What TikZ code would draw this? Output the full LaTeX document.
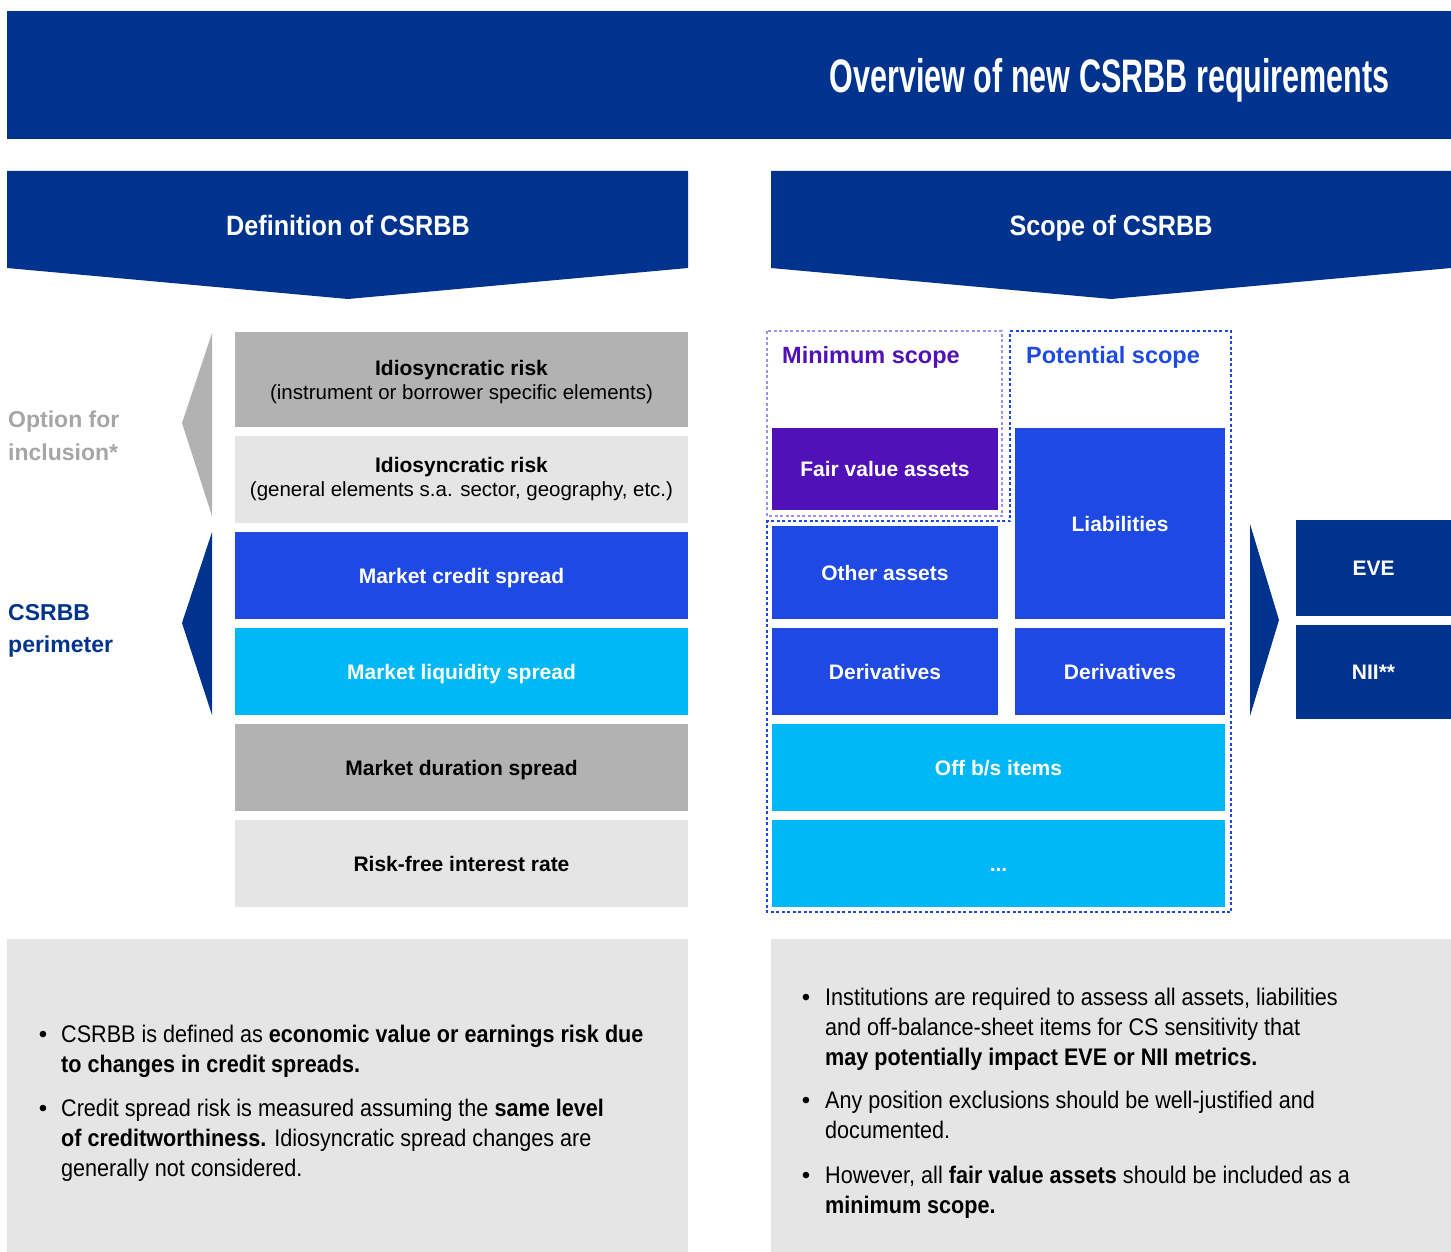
\documentclass[tikz,border=0pt]{standalone}
\usepackage{fontspec}
\setmainfont{Liberation Sans}
\newfontfamily\titlefont[FakeStretch=0.65]{Liberation Sans}
\newfontfamily\narrowfont[FakeStretch=0.9]{Liberation Sans}
\usetikzlibrary{positioning}
\definecolor{KpmgBlue}{HTML}{00338D}
\definecolor{CobaltBlue}{HTML}{1E49E2}
\definecolor{SkyBlue}{HTML}{00B8F5}
\definecolor{DeepPurple}{HTML}{5012B8}
\definecolor{LavenderLine}{HTML}{A58CF2}
\definecolor{MidGray}{HTML}{B2B2B2}
\definecolor{PaleGray}{HTML}{E5E5E5}
\definecolor{LabelGray}{HTML}{A6A6A6}

\begin{document}
\begin{tikzpicture}[x=1pt, y=-1pt,
  cellbase/.style 2 args={anchor=north west, inner sep=0pt, outer sep=0pt, minimum width=#1pt, minimum height=#2pt, align=center, font={\fontsize{21}{24}\selectfont\bfseries}},
  cell/.style 2 args={cellbase={#1}{#2}, text height=17pt, text depth=1.5pt},
  headtext/.style={anchor=base, inner sep=0pt, text=white, font={\narrowfont\fontsize{28}{30}\selectfont\bfseries}},
  sidelabel/.style={anchor=north west, inner sep=0pt, align=left, font={\fontsize{23}{32.5}\selectfont\bfseries}},
  scopelabel/.style={anchor=base west, inner sep=0pt, font={\fontsize{23.5}{28}\selectfont\bfseries}},
  bodytext/.style={anchor=north west, inner sep=0pt, align=left, font={\narrowfont\fontsize{24}{30}\selectfont}},
  bulletmark/.style={anchor=base, inner sep=0pt, font={\fontsize{24}{30}\selectfont}},
  scopeline/.style={dash pattern=on 3pt off 2.5pt, line width=1.5pt}
]
\useasboundingbox (0,0) rectangle (1451,1252);

\fill[KpmgBlue] (7,11) rectangle (1451,139);
\node[anchor=base east, inner sep=0pt, text=white, font={\titlefont\bfseries\fontsize{47}{50}\selectfont}] (title) at (1390,93) {Overview of new CSRBB requirements};

\fill[KpmgBlue] (7,171) -- (688,171) -- (688,268) -- (348,299) -- (7,268) -- cycle;
\node[headtext] (defhead) at (348,236) {Definition of CSRBB};
\fill[KpmgBlue] (771,171) -- (1451,171) -- (1451,268) -- (1111,299) -- (771,268) -- cycle;
\node[headtext] (scopehead) at (1111,236) {Scope of CSRBB};

\fill[MidGray] (212,333) -- (212,516) -- (182,423) -- cycle;
\fill[KpmgBlue] (212,532) -- (212,715) -- (182,623) -- cycle;
\node[sidelabel, text=LabelGray] (optlabel) at (8,411) {Option for\\inclusion*};
\node[sidelabel, text=KpmgBlue] (perimlabel) at (8,604) {CSRBB\\perimeter};

\node[cellbase={453}{95}, fill=MidGray] (idioa) at (235,332) {\rule{0pt}{20pt}Idiosyncratic risk\\{\mdseries\fontsize{20.5}{24}\selectfont(instrument or borrower specific elements)}};
\node[cellbase={453}{87}, fill=PaleGray] (idiob) at (235,436) {Idiosyncratic risk\\{\mdseries\fontsize{20.5}{24}\selectfont(general elements s.a. sector, geography, etc.)}};
\node[cell={453}{87}, fill=CobaltBlue, text=white] (credit) at (235,532) {Market credit spread};
\node[cell={453}{87}, fill=SkyBlue, text=white] (liquidity) at (235,628) {Market liquidity spread};
\node[cell={453}{87}, fill=MidGray] (duration) at (235,724) {Market duration spread};
\node[cell={453}{87}, fill=PaleGray] (riskfree) at (235,820) {Risk-free interest rate};

\draw[scopeline, LavenderLine] (767,331) rectangle (1002,516);
\draw[scopeline, CobaltBlue] (1010,331) -- (1231,331) -- (1231,912) -- (767,912) -- (767,521) -- (1010,521) -- cycle;
\node[scopelabel, text=DeepPurple] (minlabel) at (782,363) {Minimum scope};
\node[scopelabel, text=CobaltBlue] (potlabel) at (1026,363) {Potential scope};

\node[cell={226}{82}, fill=DeepPurple, text=white] (fairvalue) at (772,428) {Fair value assets};
\node[cell={210}{191}, fill=CobaltBlue, text=white] (liabilities) at (1015,428) {Liabilities};
\node[cell={226}{93}, fill=CobaltBlue, text=white] (otherassets) at (772,526) {Other assets};
\node[cell={226}{87}, fill=CobaltBlue, text=white] (derivleft) at (772,628) {Derivatives};
\node[cell={210}{87}, fill=CobaltBlue, text=white] (derivright) at (1015,628) {Derivatives};
\node[cell={453}{87}, fill=SkyBlue, text=white] (offbs) at (772,724) {Off b/s items};
\node[cell={453}{87}, fill=SkyBlue, text=white] (moreitems) at (772,820) {...};

\fill[KpmgBlue] (1250,524) -- (1279,620) -- (1250,716) -- cycle;
\node[cell={155}{96}, fill=KpmgBlue, text=white] (eve) at (1296,520) {EVE};
\node[cell={155}{94}, fill=KpmgBlue, text=white] (nii) at (1296,625) {NII**};

\node[cellbase={681}{313}, fill=PaleGray] (defpanel) at (7,939) {};
\node[cellbase={680}{313}, fill=PaleGray] (scopepanel) at (771,939) {};

\node[bulletmark] (ldot1) at (43,1042) {\textbullet};
\node[bodytext] (ltext1) at (61,1025) {CSRBB is defined as \textbf{economic value or earnings risk due}\\\textbf{to changes in credit spreads.}};
\node[bulletmark] (ldot2) at (43,1116) {\textbullet};
\node[bodytext] (ltext2) at (61,1099) {Credit spread risk is measured assuming the \textbf{same level}\\\textbf{of creditworthiness.} Idiosyncratic spread changes are\\generally not considered.};

\node[bulletmark] (rdot1) at (806,1005) {\textbullet};
\node[bodytext] (rtext1) at (825,988) {Institutions are required to assess all assets, liabilities\\and off-balance-sheet items for CS sensitivity that\\\textbf{may potentially impact EVE or NII metrics.}};
\node[bulletmark] (rdot2) at (806,1108) {\textbullet};
\node[bodytext] (rtext2) at (825,1091) {Any position exclusions should be well-justified and\\documented.};
\node[bulletmark] (rdot3) at (806,1183) {\textbullet};
\node[bodytext] (rtext3) at (825,1166) {However, all \textbf{fair value assets} should be included as a\\\textbf{minimum scope.}};
\end{tikzpicture}
\end{document}
